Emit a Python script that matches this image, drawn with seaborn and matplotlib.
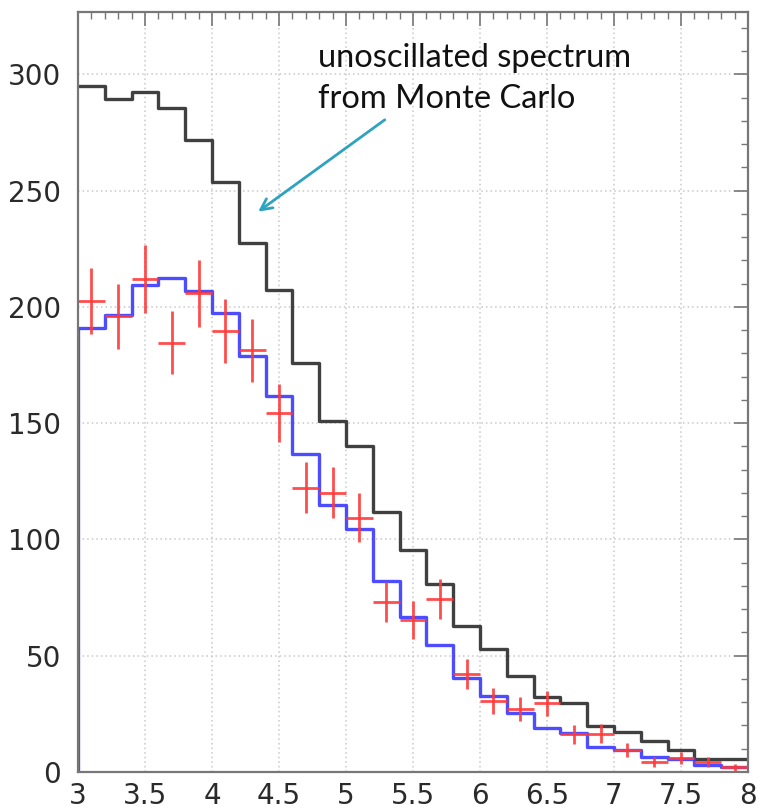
import numpy as np
import pandas as pd
import matplotlib
matplotlib.use("Agg")
import matplotlib.pyplot as plt
import seaborn as sns

# ---- data ----
bin_edges = [3.0, 3.2, 3.4, 3.6, 3.8, 4.0, 4.2, 4.4, 4.6, 4.8, 5.0, 5.2, 5.4,
             5.6, 5.8, 6.0, 6.2, 6.4, 6.6, 6.8, 7.0, 7.2, 7.4, 7.6, 7.8, 8.0]
bin_centers = [3.1, 3.3, 3.5, 3.7, 3.9, 4.1, 4.3, 4.5, 4.7, 4.9, 5.1, 5.3, 5.5,
               5.7, 5.9, 6.1, 6.3, 6.5, 6.7, 6.9, 7.1, 7.3, 7.5, 7.7, 7.9]
unoscillated = [295, 289.5, 292.5, 285.7, 271.7, 253.8, 227.6, 207.5, 176, 151,
                140, 112, 95.4, 81, 62.8, 52.9, 41.4, 32.4, 29.5, 19.9, 17.3,
                13.5, 9.5, 5.4, 5.4]
oscillated = [191, 196.5, 209.4, 212.5, 206.8, 197.2, 178.8, 161.6, 136.6, 115,
              104.5, 82.1, 66.6, 54.6, 40.6, 32.7, 25.2, 19, 16.6, 10.6, 9.3,
              6.5, 5.6, 3.1, 2.2]
data_counts = [202.6, 196, 212, 184.6, 206, 189.7, 181.4, 154.5, 122.3, 120.2,
               109.4, 73.2, 65.3, 74.4, 42, 30.5, 27, 29.5, 16.2, 16.5, 9.3,
               4.3, 6.0, 4.3, 2.0]
data_errors = [14.2, 14, 14.6, 13.6, 14.4, 13.8, 13.5, 12.4, 11.1, 11, 10.5,
               8.6, 8.1, 8.6, 6.5, 5.5, 5.2, 5.4, 4, 4.1, 3, 2.1, 2.4, 2.1, 1.4]
x_ticks = [3, 3.5, 4, 4.5, 5, 5.5, 6, 6.5, 7, 7.5, 8]
x_tick_labels = ["3", "3.5", "4", "4.5", "5", "5.5", "6", "6.5", "7", "7.5", "8"]
y_ticks = [0, 50, 100, 150, 200, 250, 300]
annotation = "unoscillated spectrum\nfrom Monte Carlo"

df = pd.DataFrame({"E": bin_centers, "mc": unoscillated, "fit": oscillated,
                   "data": data_counts, "err": data_errors})

sns.set_style("white")
plt.rcParams["font.family"] = ["DejaVu Sans"]

fig = plt.figure(figsize=(7.59, 8.09), dpi=100)
ax = fig.add_axes([78 / 759, 1 - 772 / 809, (748 - 78) / 759, (772 - 11.7) / 809])

# grid
ax.grid(True, which="major", color="#c8c8c8", linestyle=(0, (1, 2)), linewidth=1.1)
ax.set_axisbelow(True)

sns.histplot(data=df, x="E", weights="mc", bins=bin_edges, element="step",
             fill=False, color="#404040", linewidth=2.4, ax=ax)
sns.histplot(data=df, x="E", weights="fit", bins=bin_edges, element="step",
             fill=False, color="#3a3aff", linewidth=2.4, alpha=0.9, ax=ax)
ax.vlines(bin_edges[0], 0, oscillated[0], color="#3a3aff", linewidth=2.4, alpha=0.9)

ax.errorbar(df["E"], df["data"], xerr=0.1, yerr=df["err"], fmt="none",
            ecolor="#ff3a3a", elinewidth=2.0, alpha=0.9, capsize=0)

ax.set_xlim(3, 8)
ax.set_ylim(0, 327)
ax.set_xlabel("")
ax.set_ylabel("")
ax.set_xticks(x_ticks)
ax.set_xticklabels(x_tick_labels)
ax.set_yticks(y_ticks)
ax.set_xticks(np.arange(3, 8.001, 0.1), minor=True)
ax.set_yticks(np.arange(0, 327, 10), minor=True)

ax.tick_params(axis="both", which="both", direction="in", top=True, right=True,
               color="#777777")
ax.tick_params(axis="both", which="major", length=10, width=1.2,
               labelsize=20, labelcolor="#2a2a2a")
ax.tick_params(axis="both", which="minor", length=5, width=1.0)
ax.tick_params(axis="x", which="major", pad=7)
ax.tick_params(axis="y", which="major", pad=12)

for sp in ax.spines.values():
    sp.set_visible(True)
    sp.set_color("#777777")
    sp.set_linewidth(1.6)

ax.text(4.79, 313.5, annotation, ha="left", va="top", fontsize=23.5,
        family=["Lato", "DejaVu Sans"], color="#111111", linespacing=1.45)
ax.annotate("", xy=(4.328, 240.3), xytext=(5.306, 281.2),
            arrowprops=dict(arrowstyle="->,head_length=0.8,head_width=0.4",
                            color="#2ea3c0", linewidth=2.0))

fig.savefig("out.png", dpi=100)
